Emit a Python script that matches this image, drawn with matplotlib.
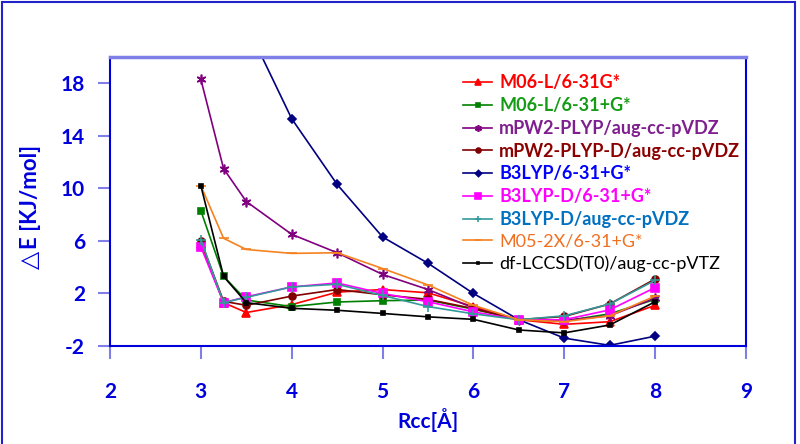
import matplotlib
matplotlib.use("Agg")
import matplotlib.pyplot as plt
from matplotlib.patches import Rectangle

# ---------------- data ----------------
rcc = [3, 3.25, 3.5, 4, 4.5, 5, 5.5, 6, 6.5, 7, 7.5, 8]

m06l_631g = [5.8, 1.3, 0.55, 1.15, 2.1, 2.3, 2.05, 1.0, 0.0, -0.35, -0.15, 1.1]
m06l_631pg = [8.3, 3.3, 1.5, 1.0, 1.35, 1.45, 1.5, 0.8, 0.0, -0.1, 0.45, 1.55]
mpw2plyp = [18.3, 11.5, 9.0, 6.5, 5.1, 3.45, 2.3, 0.9, 0.0, -0.05, 0.3, 1.65]
mpw2plyp_d = [6.0, 1.4, 1.1, 1.8, 2.3, 1.9, 1.55, 0.85, 0.0, 0.25, 1.2, 3.1]
b3lyp = [36.0, 28.0, 22.5, 15.3, 10.3, 6.3, 4.3, 2.0, 0.0, -1.4, -1.95, -1.25]
b3lyp_d_631pg = [5.55, 1.3, 1.75, 2.5, 2.8, 2.0, 1.37, 0.6, 0.0, 0.0, 0.75, 2.45]
b3lyp_d_aug = [6.1, 1.3, 1.7, 2.5, 2.7, 1.85, 1.0, 0.45, 0.0, 0.3, 1.2, 3.0]
m052x = [10.2, 6.2, 5.35, 5.05, 5.1, 3.9, 2.65, 1.1, 0.0, -0.15, 0.3, 1.8]
lccsd = [10.2, 3.3, 1.3, 0.87, 0.72, 0.48, 0.22, 0.03, -0.78, -1.0, -0.4, 1.37]

labels = ["M06-L/6-31G*", "M06-L/6-31+G*", "mPW2-PLYP/aug-cc-pVDZ",
          "mPW2-PLYP-D/aug-cc-pVDZ", "B3LYP/6-31+G*", "B3LYP-D/6-31+G*",
          "B3LYP-D/aug-cc-pVDZ", "M05-2X/6-31+G*", "df-LCCSD(T0)/aug-cc-pVTZ"]
series = [m06l_631g, m06l_631pg, mpw2plyp, mpw2plyp_d, b3lyp, b3lyp_d_631pg,
          b3lyp_d_aug, m052x, lccsd]

xticks = [2, 3, 4, 5, 6, 7, 8, 9]
yticks = [-2, 2, 6, 10, 14, 18]

# ---------------- style ----------------
line_colors = ["#FF0000", "#008000", "#800080", "#800000", "#000080",
               "#FF00FF", "#339999", "#F58220", "#000000"]
text_colors = ["#FF0000", "#169B16", "#7F1F8F", "#8B0000", "#0000FF",
               "#FF00FF", "#0070C0", "#F07020", "#000000"]
text_weights = ["bold"] * 7 + ["normal", "normal"]
markers = ["^", "s", (6, 2, 0), "o", "D", "s", "+", "_", "s"]
msizes = [6, 4.5, 7, 5, 4.5, 6, 7, 7, 2.5]

BLUE = "#0000DD"
LIGHT = "#7F7FE8"

plt.rcParams["font.family"] = ["Lato", "DejaVu Sans"]

fig = plt.figure(figsize=(8, 4.44), dpi=100)
ax = fig.add_axes([0.1375, 0.2207, 0.795, 0.6509])

for y, lab, c, m, ms in zip(series, labels, line_colors, markers, msizes):
    ax.plot(rcc, y, color=c, lw=1.2, marker=m, markersize=ms,
            markeredgewidth=1.2, label=lab, clip_on=True)

ax.set_xlim(2, 9)
ax.set_ylim(-2, 20)
ax.set_xticks(xticks)
ax.set_yticks(yticks)
ax.set_xticklabels([str(v) for v in xticks])
ax.set_yticklabels([str(v) for v in yticks])

ax.tick_params(axis="x", direction="out", length=9, width=1.5, color=LIGHT,
               labelsize=15, labelcolor=BLUE, pad=17)
ax.tick_params(axis="y", direction="out", length=9, width=1.5, color=LIGHT,
               labelsize=15, labelcolor=BLUE, pad=9)
for t in ax.get_xticklabels() + ax.get_yticklabels():
    t.set_fontweight("bold")

ax.spines["left"].set_color(BLUE)
ax.spines["left"].set_linewidth(1.5)
ax.spines["bottom"].set_color(BLUE)
ax.spines["bottom"].set_linewidth(1.5)
ax.spines["top"].set_color(LIGHT)
ax.spines["top"].set_linewidth(2.5)
ax.spines["right"].set_color(BLUE)
ax.spines["right"].set_linewidth(1.5)

ax.set_xlabel("Rcc[Å]", color=BLUE, fontsize=15, fontweight="bold", labelpad=4)
fig.text(0.038, 0.435, "△", color=BLUE, fontsize=17, rotation=90,
         ha="center", va="top", family=["DejaVu Sans"])
fig.text(0.038, 0.44, "E [KJ/mol]", color=BLUE, fontsize=16, fontweight="bold",
         rotation=90, ha="center", va="bottom")

leg = ax.legend(loc="upper left", bbox_to_anchor=(0.544, 0.965), frameon=False,
                fontsize=13, handlelength=1.6, handletextpad=0.4,
                labelspacing=0.32, borderaxespad=0, markerscale=0.7)
for txt, c, w in zip(leg.get_texts(), text_colors, text_weights):
    txt.set_color(c)
    txt.set_fontweight(w)

fig.add_artist(Rectangle((0.003, -0.1), 0.991, 1.0965, transform=fig.transFigure,
                         fill=False, edgecolor="#2222CC", lw=1.5))

fig.savefig("out.png", dpi=100)
